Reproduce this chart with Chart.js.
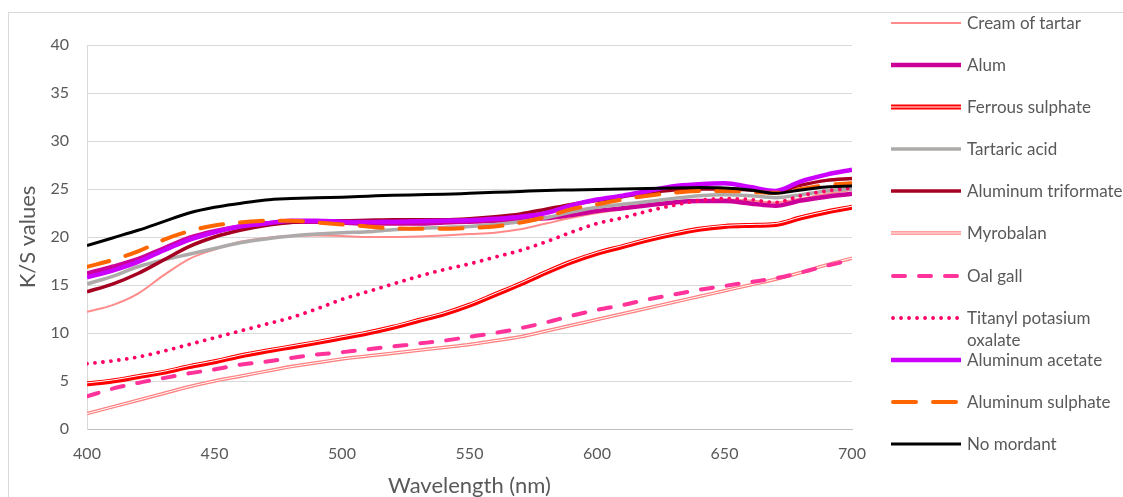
<!DOCTYPE html>
<html>
<head>
<meta charset="utf-8">
<script src="https://cdn.jsdelivr.net/npm/chart.js@4.4.1/dist/chart.umd.min.js"></script>
<style>
  html, body { margin: 0; padding: 0; background: #fff; overflow: hidden; }
  #wrap { position: relative; width: 1123px; height: 497px; overflow: hidden; }
  #frame { position: absolute; left: 8px; top: 12px; width: 1300px; height: 700px; border: 1px solid #d9d9d9; }
  #box { position: absolute; left: 0; top: 0; width: 1123px; height: 497px; }
  #legend { position: absolute; left: 891px; top: 1.5px; font-family: Lato, sans-serif; font-size: 17px; color: #595959; }
  .item { height: 42.2px; position: relative; }
  .item svg { position: absolute; left: 0; top: 10px; }
  .item span { position: absolute; left: 76px; top: 10px; line-height: 22px; width: 165px; }
</style>
</head>
<body>
<div id="wrap">
  <div id="frame"></div>
  <div id="box"><canvas id="myChart"></canvas></div>
  <div id="legend"></div>
</div>
<script>
// longueurs d'onde (nm)
const wavelengths = [400, 410, 420, 430, 440, 450, 460, 470, 480, 490, 500, 510, 520, 530, 540, 550,
                     560, 570, 580, 590, 600, 610, 620, 630, 640, 650, 660, 670, 680, 690, 700];

const creamOfTartar = [12.2, 12.9, 14.1, 16.0, 17.7, 18.7, 19.5, 19.9, 20.1, 20.15, 20.1, 20.0, 20.0, 20.05, 20.15, 20.3,
                       20.45, 20.8, 21.4, 22.0, 22.5, 22.9, 23.3, 23.6, 23.8, 23.9, 23.8, 23.6, 24.0, 24.5, 24.9];
const alum = [16.2, 16.9, 17.7, 18.8, 19.9, 20.6, 21.1, 21.4, 21.6, 21.6, 21.5, 21.4, 21.4, 21.4, 21.5, 21.6,
              21.7, 21.8, 21.95, 22.3, 22.7, 23.0, 23.3, 23.6, 23.75, 23.75, 23.5, 23.25, 23.8, 24.2, 24.5];
const ferrousSulphate = [4.7, 5.0, 5.45, 5.9, 6.5, 7.0, 7.6, 8.1, 8.55, 9.0, 9.5, 10.0, 10.6, 11.3, 12.0, 12.9,
                         14.0, 15.1, 16.3, 17.4, 18.3, 19.0, 19.7, 20.3, 20.8, 21.1, 21.2, 21.3, 22.0, 22.6, 23.1];
const tartaricAcid = [15.1, 15.9, 16.9, 17.6, 18.2, 18.8, 19.4, 19.8, 20.1, 20.3, 20.45, 20.55, 20.75, 20.9, 21.0, 21.1,
                      21.3, 21.6, 22.0, 22.6, 23.1, 23.4, 23.7, 24.0, 24.3, 24.4, 24.3, 24.1, 24.4, 24.8, 25.0];
const aluminumTriformate = [14.3, 15.1, 16.2, 17.6, 19.0, 20.0, 20.7, 21.2, 21.5, 21.7, 21.7, 21.75, 21.8, 21.8, 21.8, 21.9,
                            22.1, 22.4, 22.9, 23.4, 23.8, 24.2, 24.6, 24.9, 25.0, 25.0, 24.9, 24.7, 25.4, 25.9, 26.1];
const myrobalan = [1.6, 2.3, 3.0, 3.7, 4.4, 5.0, 5.5, 6.0, 6.5, 6.9, 7.3, 7.6, 7.9, 8.2, 8.5, 8.8,
                   9.2, 9.6, 10.2, 10.8, 11.4, 12.0, 12.6, 13.2, 13.8, 14.4, 15.0, 15.6, 16.3, 17.1, 17.8];
const oalGall = [3.4, 4.2, 4.8, 5.3, 5.8, 6.2, 6.7, 7.0, 7.4, 7.75, 8.0, 8.3, 8.6, 8.9, 9.2, 9.6,
                 10.0, 10.5, 11.1, 11.8, 12.4, 12.9, 13.5, 14.0, 14.5, 14.9, 15.3, 15.7, 16.3, 17.0, 17.6];
const titanylOxalate = [6.8, 7.1, 7.5, 8.1, 8.8, 9.5, 10.2, 10.9, 11.6, 12.5, 13.5, 14.3, 15.1, 15.9, 16.6, 17.2,
                        17.9, 18.6, 19.5, 20.5, 21.4, 22.0, 22.7, 23.3, 23.8, 24.0, 23.9, 23.6, 24.3, 24.8, 25.1];
const aluminumAcetate = [15.8, 16.5, 17.4, 18.6, 19.7, 20.5, 21.1, 21.4, 21.7, 21.7, 21.6, 21.55, 21.6, 21.65, 21.7, 21.75,
                         21.9, 22.1, 22.5, 23.3, 23.9, 24.3, 24.8, 25.3, 25.5, 25.6, 25.2, 24.8, 25.8, 26.5, 27.0];
const aluminumSulphate = [16.9, 17.6, 18.5, 19.7, 20.6, 21.2, 21.5, 21.7, 21.7, 21.5, 21.3, 21.1, 20.9, 20.85, 20.85, 20.95,
                          21.1, 21.5, 22.1, 22.9, 23.4, 23.9, 24.3, 24.6, 24.8, 24.8, 24.7, 24.6, 25.0, 25.4, 25.6];
const noMordant = [19.1, 19.9, 20.7, 21.6, 22.5, 23.1, 23.5, 23.85, 24.0, 24.1, 24.15, 24.25, 24.35, 24.4, 24.45, 24.55,
                   24.65, 24.75, 24.85, 24.9, 24.95, 25.0, 25.05, 25.1, 25.15, 25.1, 24.9, 24.55, 24.9, 25.2, 25.3];

const yTicks = [0, 5, 10, 15, 20, 25, 30, 35, 40];
const xTicks = [400, 450, 500, 550, 600, 650, 700];

function pts(values) {
    return wavelengths.map((w, i) => ({ x: w, y: values[i] }));
}

// style de chaque série
function serie(label, values, color, width, extra) {
    return Object.assign({
        label: label,
        data: pts(values),
        borderColor: color,
        backgroundColor: color,
        borderWidth: width,
        pointRadius: 0,
        cubicInterpolationMode: "monotone",
        fill: false
    }, extra || {});
}

const datasets = [
    serie("Cream of tartar", creamOfTartar, "#FF8B8B", 2),
    serie("Alum", alum, "#CC0099", 4.5),
    serie("Ferrous sulphate", ferrousSulphate, "#FF0000", 5, { innerColor: "#fff", innerWidth: 1, innerOffset: -1 }),
    serie("Tartaric acid", tartaricAcid, "#AEAAAA", 3.5),
    serie("Aluminum triformate", aluminumTriformate, "#A50021", 3.5),
    serie("Myrobalan", myrobalan, "#FF8080", 3.5, { innerColor: "#fff", innerWidth: 1, innerOffset: 0 }),
    serie("Oal gall", oalGall, "#FF3399", 4, { borderDash: [12, 14], borderCapStyle: "round" }),
    serie("Titanyl potasium oxalate", titanylOxalate, "#FF0066", 3.8, { borderDash: [0.01, 8], borderCapStyle: "round" }),
    serie("Aluminum acetate", aluminumAcetate, "#CC00FF", 4.5),
    serie("Aluminum sulphate", aluminumSulphate, "#FF6600", 4, { borderDash: [23, 17], borderCapStyle: "round" }),
    serie("No mordant", noMordant, "#000000", 3)
];
// la dernière série est dessinée au-dessus
datasets.forEach((d, i) => { d.order = -i; });

// ligne double (blanche au centre)
const doubleLine = {
    id: "doubleLine",
    afterDatasetDraw(chart, args) {
        const ds = chart.data.datasets[args.index];
        if (!ds.innerColor) return;
        const a = chart.chartArea;
        const ctx = chart.ctx;
        ctx.save();
        ctx.beginPath();
        ctx.rect(a.left, a.top, a.right - a.left, a.bottom - a.top);
        ctx.clip();
        ctx.translate(0, ds.innerOffset || 0);
        ctx.beginPath();
        args.meta.dataset.path(ctx);
        ctx.lineWidth = ds.innerWidth;
        ctx.strokeStyle = ds.innerColor;
        ctx.lineJoin = "round";
        ctx.stroke();
        ctx.restore();
    }
};

const tickFont = { family: "Lato", size: 16 };
const titleFont = { family: "Lato", size: 22, lineHeight: 1 };

const chart = new Chart(document.getElementById("myChart"), {
    type: "line",
    data: { datasets: datasets },
    plugins: [doubleLine],
    options: {
        responsive: true,
        maintainAspectRatio: false,
        animation: false,
        layout: { padding: { left: 0, right: 271, top: 45, bottom: 0 } },
        plugins: { legend: { display: false }, tooltip: { enabled: false } },
        scales: {
            x: {
                type: "linear",
                min: 400,
                max: 700,
                afterBuildTicks: s => { s.ticks = xTicks.map(v => ({ value: v })); },
                afterFit: s => { s.height = 68; },
                grid: { display: false },
                border: { display: true, color: "#BFBFBF", width: 1 },
                ticks: { color: "#595959", font: tickFont, padding: 7 },
                title: { display: true, text: "Wavelength (nm)", color: "#595959", font: titleFont, padding: { top: 0, bottom: 0 } }
            },
            y: {
                min: 0,
                max: 40,
                afterBuildTicks: s => { s.ticks = yTicks.map(v => ({ value: v })); },
                afterFit: s => { s.width = 87; },
                grid: { color: "#D9D9D9", drawTicks: false },
                border: { display: true, color: "#D9D9D9" },
                ticks: { color: "#595959", font: tickFont, padding: 18 },
                title: { display: true, text: "K/S values", color: "#595959", font: titleFont, padding: { top: 17, bottom: 0 } }
            }
        }
    }
});

// légende HTML
const legend = document.getElementById("legend");
chart.data.datasets.forEach(ds => {
    const item = document.createElement("div");
    item.className = "item";
    const ns = "http://www.w3.org/2000/svg";
    const svg = document.createElementNS(ns, "svg");
    svg.setAttribute("width", "72");
    svg.setAttribute("height", "22");
    const mk = (color, w, dash, cap, dy) => {
        const l = document.createElementNS(ns, "line");
        l.setAttribute("x1", ds.borderCapStyle === "round" ? 2 : 0);
        l.setAttribute("x2", ds.borderCapStyle === "round" ? 68 : 70);
        l.setAttribute("y1", 11 + (dy || 0));
        l.setAttribute("y2", 11 + (dy || 0));
        l.setAttribute("stroke", color);
        l.setAttribute("stroke-width", w);
        if (dash) l.setAttribute("stroke-dasharray", dash.join(" "));
        l.setAttribute("stroke-linecap", cap || "butt");
        svg.appendChild(l);
    };
    mk(ds.borderColor, ds.borderWidth, ds.borderDash, ds.borderCapStyle);
    if (ds.innerColor) mk(ds.innerColor, ds.innerWidth, null, null, 0);
    item.appendChild(svg);
    const span = document.createElement("span");
    span.textContent = ds.label;
    item.appendChild(span);
    legend.appendChild(item);
});
</script>
</body>
</html>
